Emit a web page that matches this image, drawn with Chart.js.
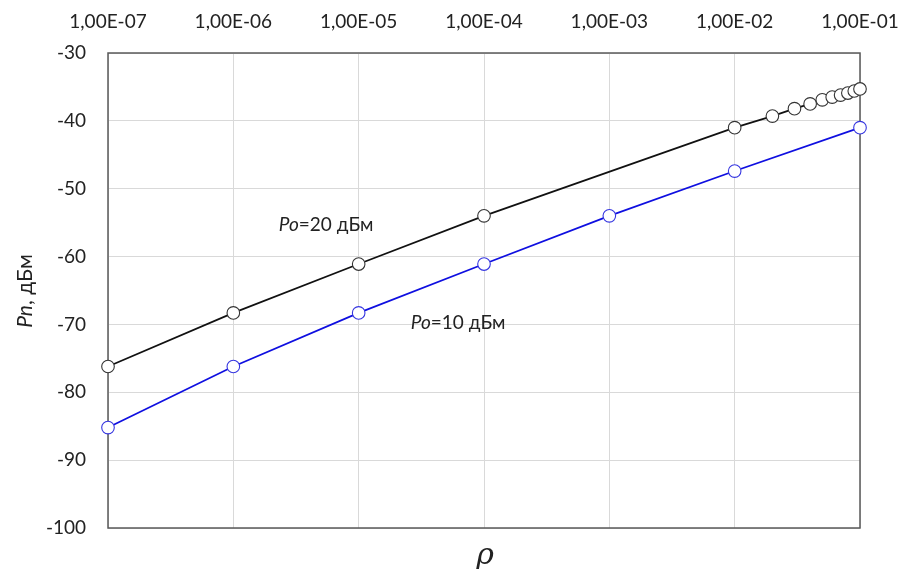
<!DOCTYPE html>
<html>
<head>
<meta charset="utf-8">
<script src="https://cdn.jsdelivr.net/npm/chart.js@4"></script>
<style>
  html, body { margin: 0; padding: 0; background: #fff; }
  #wrap { width: 905px; height: 569px; }
</style>
</head>
<body>
<div id="wrap"><canvas id="chart" width="905" height="569"></canvas></div>
<script>
// values
const rho20 = [1e-7, 1e-6, 1e-5, 1e-4, 1e-2, 0.02, 0.03, 0.04, 0.05, 0.06, 0.07, 0.08, 0.09, 0.1];
const pn20 = [-76.2, -68.3, -61.1, -54.0, -41.0, -39.3, -38.2, -37.5, -36.9, -36.5, -36.2, -35.9, -35.6, -35.3];
const rho10 = [1e-7, 1e-6, 1e-5, 1e-4, 1e-3, 1e-2, 1e-1];
const pn10 = [-85.2, -76.2, -68.3, -61.1, -54.0, -47.4, -41.0];
const xTicks = [1e-7, 1e-6, 1e-5, 1e-4, 1e-3, 1e-2, 1e-1];
const yTicks = [-30, -40, -50, -60, -70, -80, -90, -100];

const FONT = 'Lato, "Open Sans", sans-serif';

function fmtSci(v) {
    const e = Math.round(Math.log10(v));
    const sign = e < 0 ? '-' : '+';
    const a = Math.abs(e);
    return '1,00E' + sign + (a < 10 ? '0' + a : a);
}

function toPoints(xs, ys) {
    return xs.map((x, i) => ({ x: x, y: ys[i] }));
}

// text labels next to the curves, in data coordinates
const notes = [
    { x: 2.3e-6, y: -55.3, value: '20' },
    { x: 2.6e-5, y: -69.8, value: '10' }
];

const extras = {
    id: 'extras',
    beforeDatasetsDraw(chart) {
        // frame under the lines and markers
        const ctx = chart.ctx;
        const a = chart.chartArea;
        ctx.save();
        ctx.strokeStyle = '#595959';
        ctx.lineWidth = 1.5;
        ctx.strokeRect(a.left, a.top, a.right - a.left, a.bottom - a.top);
        ctx.restore();
    },
    afterDraw(chart) {
        const ctx = chart.ctx;
        const a = chart.chartArea;
        const xs = chart.scales.x;
        const ys = chart.scales.y;
        ctx.save();

        // curve labels
        ctx.fillStyle = '#222';
        ctx.textBaseline = 'middle';
        ctx.textAlign = 'left';
        notes.forEach(n => {
            let px = xs.getPixelForValue(n.x);
            const py = ys.getPixelForValue(n.y);
            ctx.font = 'italic 19px ' + FONT;
            ctx.fillText('Po', px, py);
            px += ctx.measureText('Po').width;
            ctx.font = '19px ' + FONT;
            ctx.fillText('=' + n.value + ' дБм', px, py);
        });

        // y title
        ctx.translate(25, 291);
        ctx.rotate(-Math.PI / 2);
        ctx.textAlign = 'left';
        ctx.font = 'italic 21px ' + FONT;
        const t1 = 'Pn';
        const t2 = ', дБм';
        const w1 = ctx.measureText(t1).width;
        ctx.font = '21px ' + FONT;
        const w2 = ctx.measureText(t2).width;
        const sx = -(w1 + w2) / 2;
        ctx.font = 'italic 21px ' + FONT;
        ctx.fillText(t1, sx, 0);
        ctx.font = '21px ' + FONT;
        ctx.fillText(t2, sx + w1, 0);
        ctx.restore();

        // x title
        ctx.save();
        ctx.fillStyle = '#222';
        ctx.textAlign = 'center';
        ctx.textBaseline = 'middle';
        ctx.font = 'italic 30px "DejaVu Serif", serif';
        ctx.fillText('ρ', 485, 556);
        ctx.restore();
    }
};

new Chart(document.getElementById('chart'), {
    type: 'line',
    data: {
        datasets: [
            {
                label: 'Po=20 дБм',
                data: toPoints(rho20, pn20),
                borderColor: '#111',
                borderWidth: 1.7,
                pointRadius: 6.3,
                pointBorderWidth: 1.1,
                pointBorderColor: '#333',
                pointBackgroundColor: '#fff',
                clip: false,
                tension: 0
            },
            {
                label: 'Po=10 дБм',
                data: toPoints(rho10, pn10),
                borderColor: '#0f0fe0',
                borderWidth: 1.7,
                pointRadius: 6.3,
                pointBorderWidth: 1.1,
                pointBorderColor: '#3535e0',
                pointBackgroundColor: '#fff',
                clip: false,
                tension: 0
            }
        ]
    },
    options: {
        responsive: false,
        animation: false,
        layout: { padding: { left: 0, right: 45, top: 0, bottom: 41 } },
        plugins: {
            legend: { display: false },
            tooltip: { enabled: false }
        },
        scales: {
            x: {
                type: 'logarithmic',
                position: 'top',
                min: 1e-7,
                max: 1e-1,
                afterBuildTicks(axis) {
                    axis.ticks = xTicks.map(v => ({ value: v }));
                },
                afterFit(axis) {
                    axis.height = 53;
                    axis.paddingLeft = 0;
                    axis.paddingRight = 0;
                },
                ticks: {
                    callback: v => fmtSci(v),
                    color: '#222',
                    font: { family: FONT, size: 19 },
                    maxRotation: 0,
                    autoSkip: false,
                    padding: 20
                },
                grid: { color: '#d9d9d9', drawTicks: false },
                border: { display: false }
            },
            y: {
                min: -100,
                max: -30,
                afterBuildTicks(axis) {
                    axis.ticks = yTicks.map(v => ({ value: v }));
                },
                afterFit(axis) {
                    axis.width = 108;
                    axis.paddingTop = 0;
                    axis.paddingBottom = 0;
                },
                ticks: {
                    color: '#222',
                    font: { family: FONT, size: 19 },
                    padding: 22
                },
                grid: { color: '#d9d9d9', drawTicks: false },
                border: { display: false }
            }
        }
    },
    plugins: [extras]
});
</script>
</body>
</html>
